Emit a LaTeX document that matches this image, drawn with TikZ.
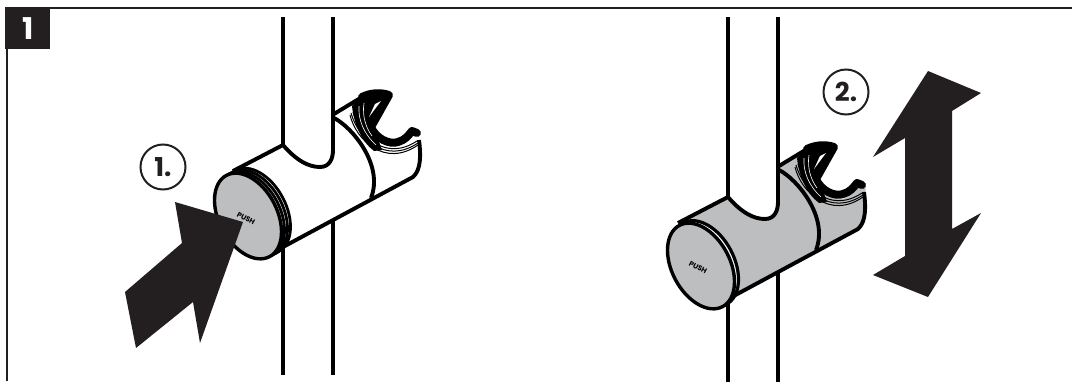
\documentclass[tikz,border=0pt]{standalone}
\usepackage{fontspec}
\setmainfont{Poppins}
\definecolor{ink}{HTML}{231F20}
\definecolor{steel}{HTML}{BCBEC0}
\tikzset{
  x=1pt,y=-1pt,
  ln/.style={draw=black,line width=3.9pt,line cap=butt,line join=round},
  thinln/.style={draw=black,line width=1pt,line join=round},
  forkln/.style={draw=black,line width=8pt,line cap=round,line join=round},
  framel/.style={draw=ink,line width=2.6pt},
  arrowshape/.style={fill=ink,draw=none},
  stepcircle/.style={circle,draw=ink,line width=2pt,minimum size=45pt,inner sep=0pt,font=\fontsize{26}{26}\bfseries,text=ink},
  pushlabel/.style={font=\fontsize{7.2}{7.2}\bfseries,text=black,inner sep=0pt,rotate=-28},
  capell/.style={x radius=46,y radius=29,rotate=-62},
  ringln/.style={draw=black,line width=2.8pt}
}
\newcommand{\holderbody}[2]{%
  % lower pole
  \draw[ln] (283,240) -- (283,375);
  \draw[ln] (333,215) -- (333,375);
  % body fill
  \path[fill=#1] (233,170) -- (283,146) .. controls (296,160) and (308,167) .. (320,167)
     .. controls (330,167) and (333,158) .. (333,150) -- (333,113) -- (362,95)
     .. controls (372,90) and (385,89) .. (392,93) -- (372,125)
     .. controls (376,140) and (390,148) .. (398,147) .. controls (405,145) and (408,135) .. (411,129)
     -- (421,132) -- (420,145) .. controls (421,155) and (421,170) .. (413,177) -- (283,247) -- cycle;
  % top line, notch, upper pole
  \draw[ln] (233,171) -- (283,145) .. controls (296,160) and (308,167) .. (320,167)
     .. controls (330,167) and (333,158) .. (333,150);
  \draw[ln] (283,146) -- (283,#2);
  \draw[ln] (333,152) -- (333,#2);
  % bottom line and right side
  \draw[ln] (283,247) -- (413,177) .. controls (421,170) and (421,155) .. (419,140);
  % shoulder
  \draw[ln] (334,118) .. controls (352,127) and (384,165) .. (371,198);
  % back
  \draw[ln] (334,114) -- (362,97);
  % inner folds
  \draw[thinln] (350,115) .. controls (356,140) and (385,168) .. (418,145);
  \draw[thinln] (351,113) .. controls (358,138) and (385,165) .. (418,143);
  \draw[thinln] (353,112) .. controls (360,136) and (385,162) .. (417,141);
  \fill[black] (352,106) -- (362,95) -- (385,93) -- (373,125) -- (382,150) -- (374,151)
     .. controls (362,142) and (354,125) .. (352,106) -- cycle;
  % fork
  \draw[forkln] (362,97) .. controls (370,93) and (380,92) .. (389,95)
     -- (371,127) .. controls (376,139) and (390,145) .. (398,142)
     .. controls (405,140) and (408,136) .. (412,131) -- (417,133);
  % fine highlights in the folds
  \draw[draw=white,line width=0.6pt] (359,106) .. controls (358,120) and (364,134) .. (376,145);
  \draw[draw=white,line width=0.6pt] (364,103) .. controls (362,116) and (366,128) .. (372,136);
  % slit in the fold
  \fill[white] (381,101) -- (375,104) -- (369,117) -- cycle;
}
\begin{document}
\begin{tikzpicture}
\useasboundingbox (0,0) rectangle (1072,381);
\fill[white] (0,0) rectangle (1072,381);
% frame
\draw[framel] (50,8) -- (1072,8);
\draw[framel] (7,49) -- (7,381);
\node[fill=ink,text=white,minimum width=45pt,minimum height=42pt,inner sep=0pt,anchor=north west,font=\fontsize{30}{30}\bfseries] (tag) at (5,7) {1};
% left device
\holderbody{white}{17}
\draw[ringln,fill=white] (257,211) ellipse[capell];
\draw[ringln,fill=white] (254,212.8) ellipse[capell];
\draw[ringln,fill=white] (251,214.4) ellipse[capell];
\draw[draw=black,fill=steel,line width=3.4pt] (248,216) ellipse[capell];
\node[pushlabel] (pushA) at (246,218.5) {PUSH};
\path[arrowshape] (175,202) -- (243,222) -- (200,343) -- (193,302) -- (136,348) -- (125,292) -- (182,243) -- cycle;
\node[stepcircle] (stepA) at (163,167) {1.};
% right device
\begin{scope}[shift={(445,52)}]
\holderbody{steel}{-35}
\end{scope}
\draw[ringln,line width=3.2pt,fill=white] (705,263.5) ellipse[capell];
\draw[draw=black,fill=steel,line width=3.4pt] (701,266) ellipse[capell];
\node[pushlabel] (pushB) at (698,267.5) {PUSH};
\path[arrowshape] (928,71) -- (981,93) -- (952,111) -- (952,229) -- (981,213) -- (928,297) -- (873,275) -- (905,256) -- (905,138) -- (873,157) -- cycle;
\node[stepcircle] (stepB) at (846,92) {2.};
\end{tikzpicture}
\end{document}
